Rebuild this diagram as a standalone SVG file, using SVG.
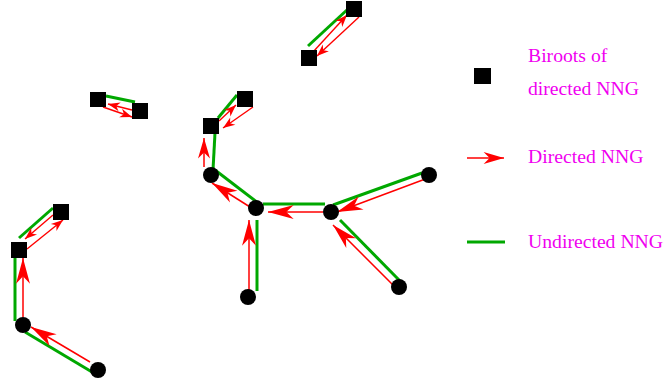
<svg xmlns="http://www.w3.org/2000/svg" width="666" height="387" viewBox="0 0 666 387">
<defs>
<style>
.g{stroke:#00a800;stroke-width:3;fill:none;stroke-linecap:butt}
.r{stroke:#ff0000;stroke-width:1.5;fill:none}
.rs{stroke:#ff0000;stroke-width:1.4;fill:none}
.big{marker-end:url(#hb)}
.med{marker-end:url(#hm)}
.sm{marker-end:url(#hs)}
.sq{fill:#000}
.dot{fill:#000}
.t{font-family:"Liberation Serif","Times New Roman",serif;font-size:19.7px;fill:#f000f0}
</style>
<marker id="hb" markerUnits="userSpaceOnUse" markerWidth="30" markerHeight="20" viewBox="-26 -8 28 16" refX="0" refY="0" orient="auto" overflow="visible">
<path d="M0,0 L-24,-6.5 L-17,0 L-24,6.5 Z" fill="#ff0000"/>
</marker>
<marker id="hm" markerUnits="userSpaceOnUse" markerWidth="24" markerHeight="16" viewBox="-18 -6 20 12" refX="0" refY="0" orient="auto" overflow="visible">
<path d="M0,0 L-17,-5 L-12,0 L-17,5 Z" fill="#ff0000"/>
</marker>
<marker id="hs" markerUnits="userSpaceOnUse" markerWidth="16" markerHeight="12" viewBox="-14 -5 16 10" refX="0" refY="0" orient="auto" overflow="visible">
<path d="M0,0 L-12,-4.5 L-8.5,0 L-12,4.5 Z" fill="#ff0000"/>
</marker>
</defs>
<rect width="666" height="387" fill="#fff"/>
<g id="connectors">
<line class="g" x1="308" y1="46" x2="348" y2="9"/>
<line class="g" x1="106" y1="96" x2="135" y2="102"/>
<line class="g" x1="237" y1="95" x2="218" y2="118"/>
<line class="g" x1="215" y1="133" x2="213" y2="170"/>
<line class="g" x1="215" y1="170" x2="258" y2="203"/>
<line class="g" x1="263" y1="204" x2="325" y2="204"/>
<line class="g" x1="333" y1="205" x2="422" y2="173"/>
<line class="g" x1="340" y1="220" x2="400" y2="281"/>
<line class="g" x1="257" y1="220" x2="257" y2="291"/>
<line class="g" x1="53" y1="208" x2="19" y2="238"/>
<line class="g" x1="15" y1="257" x2="15" y2="321"/>
<line class="g" x1="25" y1="332" x2="92" y2="372"/>
<line class="r med" x1="204" y1="167" x2="204" y2="138"/>
<line class="r big" x1="250" y1="207" x2="212" y2="183"/>
<line class="r big" x1="323" y1="212" x2="268" y2="212"/>
<line class="r big" x1="249" y1="290" x2="249" y2="220"/>
<line class="r big" x1="428" y1="178" x2="337" y2="212"/>
<line class="r big" x1="393" y1="285" x2="333" y2="225"/>
<line class="r big" x1="23" y1="317" x2="23" y2="258"/>
<line class="r big" x1="90" y1="362" x2="31" y2="327"/>
<line class="rs sm" x1="219" y1="121" x2="236" y2="105"/>
<line class="rs sm" x1="253" y1="107" x2="223" y2="128"/>
<line class="rs sm" x1="313" y1="52" x2="347" y2="15"/>
<line class="rs sm" x1="359" y1="17" x2="317" y2="56"/>
<line class="rs sm" x1="103" y1="107" x2="132" y2="117"/>
<line class="rs sm" x1="132" y1="110" x2="108" y2="104"/>
<line class="rs sm" x1="27" y1="249" x2="63" y2="220"/>
<line class="rs sm" x1="53" y1="215" x2="25" y2="239"/>
</g>
<g id="A"><rect class="sq" x="346" y="1" width="16" height="16"/></g>
<g id="B"><rect class="sq" x="301" y="50" width="16" height="16"/></g>
<g id="C"><rect class="sq" x="90" y="92" width="16" height="15"/></g>
<g id="D"><rect class="sq" x="132" y="103" width="16" height="16"/></g>
<g id="E"><rect class="sq" x="237" y="91" width="16" height="16"/></g>
<g id="F"><rect class="sq" x="203" y="118" width="16" height="16"/></g>
<g id="G"><rect class="sq" x="53" y="204" width="16" height="16"/></g>
<g id="H"><rect class="sq" x="11" y="242" width="16" height="16"/></g>
<g id="c1"><circle class="dot" cx="211" cy="175" r="8"/></g>
<g id="c2"><circle class="dot" cx="256" cy="208" r="8"/></g>
<g id="c3"><circle class="dot" cx="331" cy="212" r="8"/></g>
<g id="c4"><circle class="dot" cx="429" cy="175" r="8"/></g>
<g id="c5"><circle class="dot" cx="399" cy="287" r="8"/></g>
<g id="c6"><circle class="dot" cx="248" cy="297" r="8"/></g>
<g id="c7"><circle class="dot" cx="23" cy="325" r="8"/></g>
<g id="c8"><circle class="dot" cx="98" cy="370" r="8"/></g>
<g id="legend">
<rect class="sq" x="474" y="68" width="17" height="16"/>
<text class="t" x="528" y="62">Biroots of</text>
<text class="t" x="528" y="95">directed NNG</text>
<line class="r med" x1="467" y1="158" x2="504" y2="158"/>
<text class="t" x="528" y="163">Directed NNG</text>
<line class="g" x1="467" y1="242" x2="505" y2="242"/>
<text class="t" x="528" y="248">Undirected NNG</text>
</g>
</svg>
